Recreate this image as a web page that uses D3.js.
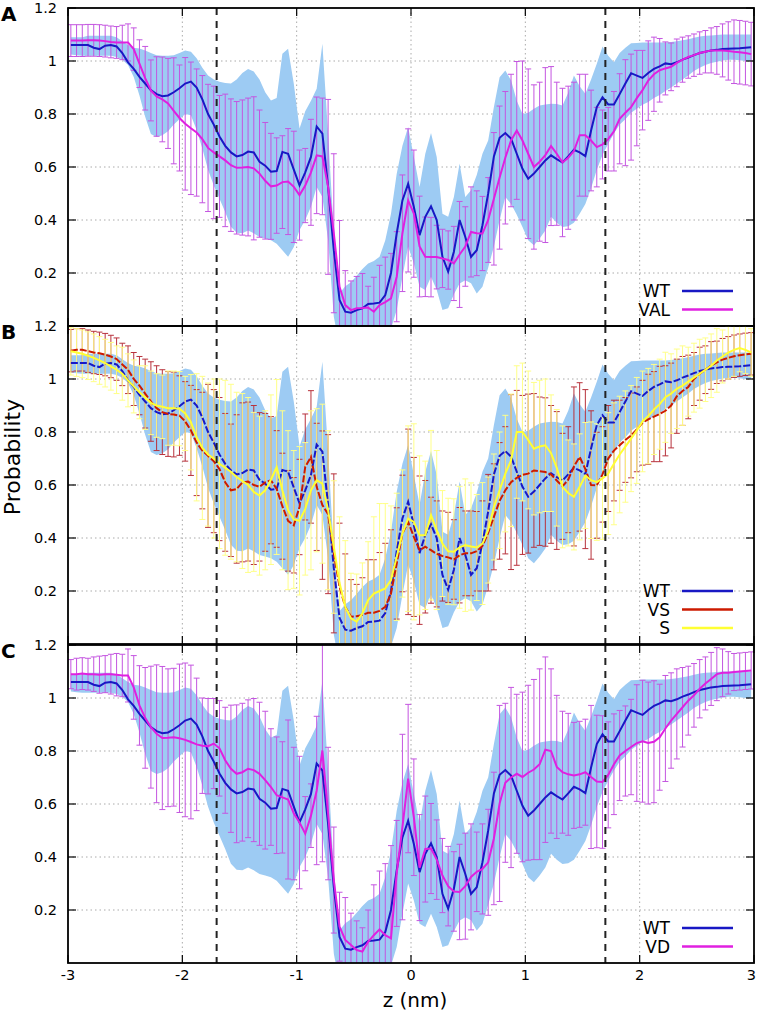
<!DOCTYPE html>
<html><head><meta charset="utf-8">
<script src="https://cdn.jsdelivr.net/npm/d3@7"></script>
<style>body{margin:0;background:#fff}svg{display:block}text{font-family:"DejaVu Sans",sans-serif}</style>
</head><body>
<svg id="chart" width="757" height="1014"></svg>
<script>
// bin centres (nm)
const zMid = [-2.975,-2.925,-2.875,-2.825,-2.775,-2.725,-2.675,-2.625,-2.575,-2.525,-2.475,-2.425,-2.375,-2.325,-2.275,-2.225,-2.175,-2.125,-2.075,-2.025,
-1.975,-1.925,-1.875,-1.825,-1.775,-1.725,-1.675,-1.625,-1.575,-1.525,-1.475,-1.425,-1.375,-1.325,-1.275,-1.225,-1.175,-1.125,-1.075,-1.025,
-0.975,-0.925,-0.875,-0.825,-0.775,-0.725,-0.675,-0.625,-0.575,-0.525,-0.475,-0.425,-0.375,-0.325,-0.275,-0.225,-0.175,-0.125,-0.075,-0.025,
0.025,0.075,0.125,0.175,0.225,0.275,0.325,0.375,0.425,0.475,0.525,0.575,0.625,0.675,0.725,0.775,0.825,0.875,0.925,0.975,
1.025,1.075,1.125,1.175,1.225,1.275,1.325,1.375,1.425,1.475,1.525,1.575,1.625,1.675,1.725,1.775,1.825,1.875,1.925,1.975,
2.025,2.075,2.125,2.175,2.225,2.275,2.325,2.375,2.425,2.475,2.525,2.575,2.625,2.675,2.725,2.775,2.825,2.875,2.925,2.975];

const wtMean = [1.06,1.06,1.06,1.06,1.05,1.045,1.058,1.06,1.055,1.03,0.995,0.97,0.94,0.915,0.89,0.875,0.867,0.87,0.882,0.897,
0.915,0.922,0.9,0.855,0.80,0.76,0.715,0.68,0.655,0.64,0.645,0.658,0.655,0.62,0.605,0.582,0.585,0.657,0.65,0.59,
0.531,0.58,0.638,0.753,0.726,0.525,0.286,0.098,0.054,0.05,0.06,0.067,0.083,0.085,0.088,0.117,0.20,0.35,0.474,0.537,
0.449,0.343,0.412,0.452,0.40,0.261,0.205,0.28,0.40,0.336,0.261,0.286,0.38,0.50,0.64,0.71,0.728,0.707,0.65,0.593,
0.556,0.575,0.60,0.625,0.644,0.63,0.617,0.64,0.665,0.655,0.641,0.738,0.826,0.863,0.836,0.836,0.875,0.915,0.954,0.945,
0.936,0.955,0.97,0.98,0.991,0.988,0.995,1.005,1.013,1.022,1.03,1.035,1.04,1.042,1.045,1.046,1.047,1.048,1.05,1.052];

const wtUpper = [1.09,1.09,1.09,1.095,1.095,1.095,1.095,1.095,1.09,1.075,1.06,1.05,1.047,1.04,1.03,1.022,1.02,1.02,1.022,1.03,
1.04,1.035,1.01,0.975,0.945,0.93,0.922,0.917,0.915,0.93,0.955,0.97,0.96,0.93,0.882,0.851,0.86,1.027,1.046,0.914,
0.745,0.81,0.85,0.895,1.065,0.726,0.35,0.124,0.15,0.165,0.19,0.215,0.236,0.245,0.261,0.324,0.424,0.575,0.68,0.751,
0.638,0.525,0.65,0.728,0.638,0.424,0.412,0.487,0.613,0.487,0.512,0.57,0.65,0.70,0.826,0.939,0.964,0.927,0.85,0.80,
0.805,0.82,0.832,0.836,0.839,0.838,0.832,0.88,0.945,0.905,0.876,0.93,0.99,1.055,1.02,0.995,1.03,1.05,1.067,1.068,
1.07,1.07,1.07,1.07,1.07,1.072,1.075,1.078,1.082,1.088,1.092,1.095,1.096,1.098,1.1,1.1,1.1,1.1,1.1,1.1];

const wtLower = [1.025,1.022,1.02,1.02,1.02,1.02,1.02,1.02,1.015,1.005,0.985,0.94,0.87,0.79,0.725,0.713,0.72,0.735,0.76,0.78,
0.80,0.795,0.74,0.67,0.59,0.53,0.48,0.43,0.375,0.352,0.35,0.36,0.35,0.336,0.33,0.324,0.31,0.286,0.261,0.298,
0.362,0.40,0.45,0.525,0.487,0.324,0.035,-0.08,-0.1,-0.1,-0.1,-0.1,-0.1,-0.08,-0.06,-0.04,-0.01,0.06,0.186,0.30,
0.236,0.148,0.136,0.186,0.136,0.06,0.067,0.12,0.16,0.173,0.161,0.123,0.148,0.22,0.30,0.40,0.487,0.46,0.42,0.374,
0.324,0.305,0.33,0.36,0.412,0.39,0.374,0.376,0.39,0.424,0.46,0.52,0.59,0.645,0.688,0.726,0.76,0.78,0.805,0.82,
0.835,0.845,0.86,0.872,0.887,0.90,0.915,0.93,0.945,0.962,0.975,0.985,0.992,0.997,1.002,1.005,1.005,1.003,1.0,1.0];

const valMean = [1.077,1.077,1.077,1.078,1.078,1.077,1.075,1.072,1.07,1.07,1.07,1.045,0.99,0.935,0.889,0.866,0.855,0.84,0.812,0.785,
0.763,0.746,0.73,0.705,0.672,0.655,0.64,0.625,0.607,0.597,0.598,0.6,0.595,0.575,0.548,0.527,0.53,0.543,0.545,0.525,
0.494,0.53,0.58,0.644,0.64,0.525,0.35,0.148,0.079,0.06,0.067,0.068,0.07,0.054,0.079,0.09,0.104,0.186,0.35,0.474,
0.424,0.30,0.261,0.26,0.26,0.255,0.249,0.236,0.27,0.30,0.355,0.35,0.349,0.40,0.48,0.56,0.635,0.70,0.738,0.70,
0.65,0.6,0.62,0.645,0.679,0.65,0.617,0.635,0.66,0.72,0.72,0.70,0.675,0.685,0.705,0.735,0.782,0.805,0.826,0.86,
0.89,0.926,0.95,0.965,0.972,0.978,0.993,1.005,1.015,1.022,1.03,1.035,1.04,1.04,1.04,1.038,1.035,1.033,1.03,1.026];

const valErr = [0.06,0.06,0.06,0.06,0.06,0.06,0.06,0.06,0.06,0.065,0.07,0.08,0.09,0.12,0.115,0.15,0.16,0.17,0.2,0.2,
0.25,0.25,0.24,0.24,0.24,0.25,0.23,0.25,0.25,0.25,0.255,0.26,0.27,0.24,0.22,0.2,0.18,0.175,0.2,0.21,
0.17,0.14,0.2,0.22,0.22,0.33,0.3,0.25,0.13,0.11,0.12,0.13,0.08,0.13,0.15,0.17,0.17,0.17,0.22,0.27,
0.24,0.19,0.15,0.15,0.12,0.11,0.11,0.14,0.2,0.15,0.17,0.16,0.14,0.16,0.25,0.27,0.25,0.25,0.26,0.30,
0.32,0.31,0.30,0.33,0.30,0.27,0.28,0.27,0.26,0.23,0.23,0.19,0.15,0.13,0.12,0.15,0.17,0.2,0.2,0.18,
0.15,0.15,0.14,0.12,0.1,0.09,0.09,0.085,0.08,0.08,0.08,0.08,0.085,0.09,0.1,0.11,0.12,0.12,0.12,0.12];

const vsMean = [1.107,1.11,1.11,1.105,1.1,1.097,1.092,1.085,1.075,1.055,1.035,1.0,0.975,0.945,0.915,0.89,0.875,0.868,0.866,0.862,
0.84,0.806,0.76,0.73,0.71,0.69,0.66,0.61,0.58,0.585,0.61,0.613,0.6,0.593,0.61,0.618,0.585,0.52,0.465,0.448,
0.517,0.668,0.706,0.593,0.524,0.49,0.342,0.216,0.14,0.103,0.105,0.11,0.118,0.118,0.125,0.14,0.191,0.304,0.417,0.461,
0.404,0.354,0.367,0.354,0.34,0.332,0.327,0.319,0.335,0.342,0.342,0.35,0.37,0.42,0.48,0.54,0.58,0.611,0.627,0.638,
0.643,0.655,0.652,0.649,0.64,0.617,0.595,0.62,0.67,0.706,0.66,0.60,0.599,0.64,0.70,0.73,0.75,0.77,0.787,0.81,
0.835,0.848,0.858,0.868,0.88,0.90,0.935,0.955,0.97,1.0,1.02,1.035,1.051,1.063,1.073,1.08,1.086,1.09,1.093,1.095];

const vsErr = [0.08,0.08,0.08,0.08,0.08,0.08,0.08,0.08,0.08,0.08,0.09,0.1,0.11,0.13,0.15,0.16,0.16,0.16,0.16,0.15,
0.15,0.17,0.2,0.22,0.27,0.27,0.27,0.26,0.25,0.28,0.3,0.3,0.3,0.28,0.26,0.24,0.22,0.2,0.19,0.18,
0.18,0.2,0.25,0.24,0.28,0.3,0.3,0.24,0.2,0.14,0.12,0.14,0.2,0.2,0.22,0.24,0.24,0.21,0.22,0.35,
0.3,0.28,0.25,0.2,0.2,0.17,0.17,0.15,0.18,0.16,0.16,0.15,0.17,0.22,0.2,0.22,0.24,0.33,0.33,0.3,
0.3,0.29,0.28,0.28,0.26,0.26,0.2,0.2,0.3,0.28,0.3,0.28,0.2,0.18,0.2,0.19,0.17,0.16,0.16,0.16,
0.16,0.17,0.17,0.18,0.17,0.16,0.14,0.13,0.12,0.1,0.1,0.09,0.09,0.08,0.08,0.08,0.08,0.08,0.08,0.08];

const sMean = [1.105,1.1,1.095,1.088,1.08,1.07,1.06,1.048,1.035,1.02,0.995,0.972,0.95,0.93,0.91,0.9,0.895,0.89,0.89,0.888,
0.87,0.837,0.78,0.74,0.715,0.7,0.68,0.665,0.65,0.63,0.615,0.6,0.574,0.56,0.58,0.62,0.668,0.58,0.505,0.47,
0.465,0.51,0.58,0.618,0.605,0.505,0.366,0.23,0.14,0.097,0.084,0.116,0.166,0.19,0.2,0.21,0.241,0.329,0.417,0.473,
0.461,0.41,0.41,0.486,0.43,0.379,0.35,0.348,0.365,0.373,0.368,0.364,0.379,0.43,0.517,0.58,0.643,0.693,0.80,0.80,
0.77,0.737,0.745,0.75,0.72,0.665,0.593,0.57,0.555,0.593,0.636,0.618,0.611,0.625,0.643,0.68,0.715,0.745,0.775,0.806,
0.84,0.86,0.885,0.905,0.931,0.945,0.963,0.975,0.99,1.005,1.02,1.035,1.05,1.07,1.085,1.1,1.11,1.117,1.11,1.1];

const sErr = [0.09,0.09,0.09,0.09,0.09,0.09,0.09,0.09,0.09,0.1,0.1,0.1,0.1,0.12,0.12,0.12,0.12,0.14,0.14,0.14,
0.14,0.18,0.24,0.27,0.27,0.3,0.32,0.33,0.33,0.32,0.33,0.33,0.3,0.3,0.3,0.32,0.33,0.3,0.3,0.26,
0.28,0.25,0.3,0.27,0.3,0.3,0.25,0.25,0.25,0.17,0.18,0.19,0.22,0.29,0.33,0.32,0.28,0.24,0.24,0.35,
0.37,0.3,0.28,0.32,0.3,0.2,0.2,0.2,0.23,0.25,0.24,0.2,0.23,0.2,0.2,0.22,0.22,0.25,0.25,0.26,
0.26,0.25,0.25,0.25,0.22,0.22,0.23,0.2,0.2,0.2,0.2,0.22,0.22,0.23,0.23,0.23,0.22,0.21,0.2,0.2,
0.19,0.18,0.17,0.17,0.17,0.15,0.15,0.15,0.13,0.13,0.13,0.12,0.12,0.12,0.1,0.1,0.1,0.09,0.09,0.09];

const vdMean = [1.09,1.09,1.092,1.09,1.09,1.088,1.09,1.09,1.088,1.085,1.085,1.04,0.972,0.925,0.89,0.865,0.849,0.85,0.852,0.848,
0.842,0.834,0.825,0.82,0.818,0.828,0.81,0.765,0.733,0.714,0.72,0.733,0.728,0.714,0.69,0.664,0.633,0.625,0.617,0.564,
0.53,0.488,0.556,0.651,0.802,0.564,0.313,0.137,0.087,0.068,0.049,0.043,0.08,0.105,0.127,0.105,0.093,0.338,0.513,0.696,
0.55,0.36,0.43,0.432,0.39,0.33,0.29,0.27,0.268,0.29,0.325,0.344,0.355,0.38,0.47,0.602,0.68,0.70,0.714,0.702,
0.718,0.73,0.75,0.805,0.80,0.74,0.72,0.712,0.708,0.712,0.72,0.702,0.685,0.683,0.71,0.75,0.783,0.80,0.815,0.83,
0.837,0.83,0.835,0.852,0.885,0.915,0.94,0.965,0.99,1.01,1.035,1.055,1.072,1.09,1.095,1.095,1.098,1.10,1.102,1.104];

const vdErr = [0.055,0.06,0.06,0.06,0.065,0.07,0.07,0.075,0.08,0.08,0.1,0.12,0.15,0.19,0.23,0.26,0.27,0.26,0.26,0.28,
0.29,0.29,0.25,0.18,0.18,0.17,0.18,0.2,0.24,0.26,0.26,0.26,0.27,0.27,0.26,0.22,0.22,0.21,0.3,0.25,
0.25,0.14,0.12,0.28,0.42,0.25,0.2,0.13,0.16,0.12,0.11,0.09,0.12,0.19,0.22,0.27,0.35,0.2,0.35,0.28,
0.22,0.2,0.2,0.17,0.15,0.14,0.15,0.15,0.18,0.2,0.2,0.15,0.17,0.2,0.25,0.37,0.3,0.34,0.3,0.32,
0.33,0.34,0.36,0.35,0.31,0.27,0.23,0.23,0.2,0.2,0.2,0.27,0.25,0.25,0.2,0.19,0.17,0.17,0.18,0.22,
0.23,0.23,0.23,0.2,0.2,0.18,0.17,0.15,0.13,0.12,0.11,0.1,0.1,0.1,0.09,0.08,0.07,0.07,0.07,0.07];

const xTicks = [-3,-2,-1,0,1,2,3];
const xTickLabels = ["-3","-2","-1","0","1","2","3"];
const yTicks = [0.2,0.4,0.6,0.8,1.0,1.2];
const yTickLabels = ["0.2","0.4","0.6","0.8","1","1.2"];
const poreEdges = [-1.7, 1.7];
const panelLetters = ["A","B","C"];

const C = {band:"#9dcbf3", wt:"#1818c4", mag:"#e020e0", magBar:"#c455e0",
  vs:"#cc1a00", vsBar:"#b8323c", s:"#ffff33", sBar:"#ffff88"};

const panels = [
  {letter:"A", top:8, wtDash:null, series:[{name:"VAL", mean:valMean, err:valErr, line:C.mag, bar:C.magBar}]},
  {letter:"B", top:326, wtDash:"7,2", series:[
     {name:"VS", mean:vsMean, err:vsErr, line:C.vs, bar:C.vsBar, dash:"7,2"},
     {name:"S", mean:sMean, err:sErr, line:C.s, bar:C.sBar}]},
  {letter:"C", top:645, wtDash:null, series:[{name:"VD", mean:vdMean, err:vdErr, line:C.mag, bar:C.magBar}]}
];

const svg = d3.select("#chart");
const left = 68, right = 754, ph = 318;
const x = d3.scaleLinear().domain([-3,3]).range([left,right]);

panels.forEach((p, pi) => {
  const y = d3.scaleLinear().domain([0,1.2]).range([p.top+ph, p.top]);
  const g = svg.append("g");
  const cid = "clip"+pi;
  svg.append("clipPath").attr("id",cid).append("rect")
    .attr("x",left).attr("y",p.top).attr("width",right-left).attr("height",ph);

  // grid
  g.selectAll(".hg").data(yTicks.filter(v=>v<1.15)).join("line")
    .attr("x1",left).attr("x2",right).attr("y1",d=>y(d)).attr("y2",d=>y(d))
    .attr("stroke","#aaa").attr("stroke-width",1).attr("stroke-dasharray","1.5,3");
  g.selectAll(".vg").data(xTicks.filter(v=>v>-3&&v<3)).join("line")
    .attr("x1",d=>x(d)).attr("x2",d=>x(d)).attr("y1",p.top).attr("y2",p.top+ph)
    .attr("stroke","#aaa").attr("stroke-width",1).attr("stroke-dasharray","1.5,3");

  const data = zMid.map((z,i)=>({z, m:wtMean[i], lo:wtLower[i], hi:wtUpper[i]}));
  const cg = g.append("g").attr("clip-path",`url(#${cid})`);

  cg.append("path").datum(data)
    .attr("d", d3.area().x(d=>x(d.z)).y0(d=>y(d.lo)).y1(d=>y(d.hi)))
    .attr("fill", C.band);

  // error bars
  p.series.forEach(s => {
    const bars = cg.append("g").attr("stroke", s.bar).attr("stroke-width",1).attr("fill","none");
    zMid.forEach((z,i) => {
      const xm = x(z), yt = y(s.mean[i]+s.err[i]), yb = y(s.mean[i]-s.err[i]);
      bars.append("line").attr("x1",xm).attr("x2",xm).attr("y1",yt).attr("y2",yb);
      bars.append("line").attr("x1",xm-3).attr("x2",xm+3).attr("y1",yt).attr("y2",yt);
      bars.append("line").attr("x1",xm-3).attr("x2",xm+3).attr("y1",yb).attr("y2",yb);
    });
  });

  const line = d3.line().x(d=>x(d.z)).y(d=>y(d.v));
  cg.append("path").datum(zMid.map((z,i)=>({z, v:wtMean[i]})))
    .attr("d", line).attr("fill","none").attr("stroke",C.wt).attr("stroke-width",2)
    .attr("stroke-dasharray", p.wtDash);
  p.series.forEach(s => {
    cg.append("path").datum(zMid.map((z,i)=>({z, v:s.mean[i]})))
      .attr("d", line).attr("fill","none").attr("stroke",s.line).attr("stroke-width",2)
      .attr("stroke-dasharray", s.dash||null);
  });

  // pore edges
  g.selectAll(".pe").data(poreEdges).join("line")
    .attr("x1",d=>x(d)).attr("x2",d=>x(d)).attr("y1",p.top).attr("y2",p.top+ph)
    .attr("stroke","#222").attr("stroke-width",2).attr("stroke-dasharray","7,6");

  // ticks
  xTicks.forEach(t => {
    g.append("line").attr("x1",x(t)).attr("x2",x(t)).attr("y1",p.top+ph).attr("y2",p.top+ph-8).attr("stroke","#000").attr("stroke-width",1.2);
    g.append("line").attr("x1",x(t)).attr("x2",x(t)).attr("y1",p.top).attr("y2",p.top+8).attr("stroke","#000").attr("stroke-width",1.2);
  });
  yTicks.forEach((t,i) => {
    g.append("line").attr("x1",left).attr("x2",left+8).attr("y1",y(t)).attr("y2",y(t)).attr("stroke","#000").attr("stroke-width",1.2);
    g.append("line").attr("x1",right).attr("x2",right-8).attr("y1",y(t)).attr("y2",y(t)).attr("stroke","#000").attr("stroke-width",1.2);
    g.append("text").attr("x",57).attr("y",y(t)+5).attr("text-anchor","end")
      .attr("font-size",14.5).attr("fill","#000").text(yTickLabels[i]);
  });

  // frame
  g.append("rect").attr("x",left).attr("y",p.top).attr("width",right-left).attr("height",ph)
    .attr("fill","none").attr("stroke","#000").attr("stroke-width",1.8);

  // panel letter
  g.append("text").attr("x",1).attr("y",p.top+13).attr("font-size",20).attr("font-weight","bold")
    .attr("fill","#000").text(panelLetters[pi]);

  // legend
  const leg = [{name:"WT", color:C.wt}].concat(p.series.map(s=>({name:s.name, color:s.line})));
  const ly0 = p.top + ph - 35 - (leg.length-2)*18;
  leg.forEach((l,i) => {
    const yy = ly0 + i*18.5;
    g.append("text").attr("x",670).attr("y",yy+6).attr("text-anchor","end").attr("font-size",17)
      .attr("fill","#000").text(l.name);
    g.append("line").attr("x1",682).attr("x2",733).attr("y1",yy).attr("y2",yy)
      .attr("stroke",l.color).attr("stroke-width",2.5);
  });
});

// x tick labels
const yBottom = 645 + ph;
xTicks.forEach((t,i) => {
  const last = i === xTicks.length-1;
  svg.append("text").attr("x", last ? 756 : x(t)).attr("y",yBottom+17)
    .attr("text-anchor", last ? "end" : "middle")
    .attr("font-size",14.5).attr("fill","#000").text(xTickLabels[i]);
});
svg.append("text").attr("x",x(0)+4).attr("y",1007).attr("text-anchor","middle")
  .attr("font-size",20).attr("fill","#000").text("z (nm)");
svg.append("text").attr("transform","translate(20,457) rotate(-90)").attr("text-anchor","middle")
  .attr("font-size",22).attr("fill","#000").text("Probability");
</script>
</body></html>
